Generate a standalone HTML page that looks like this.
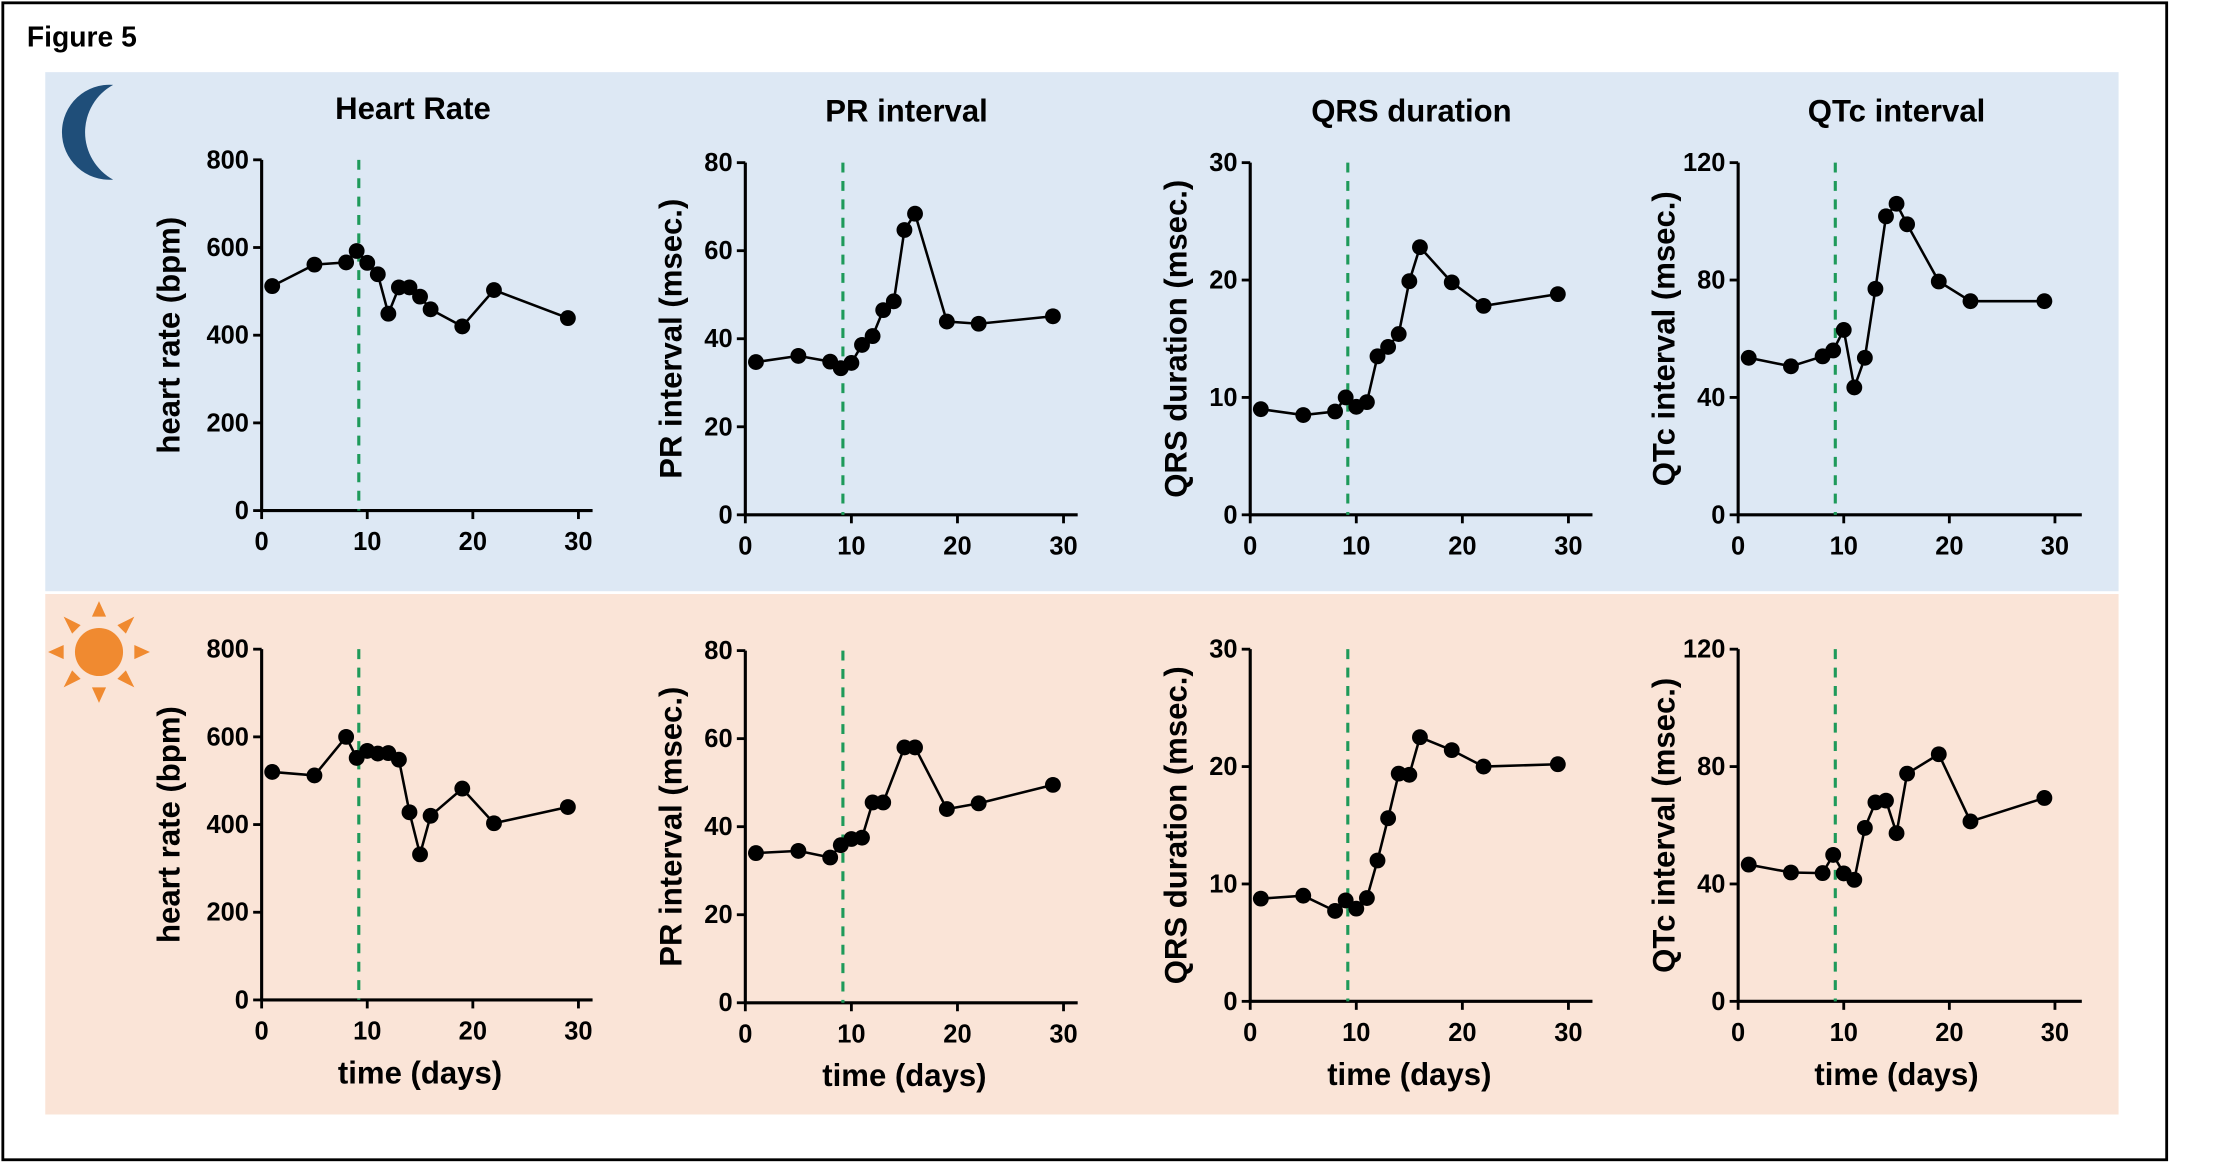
<!DOCTYPE html>
<html><head><meta charset="utf-8">
<style>
html,body{margin:0;padding:0;background:#fff;}
svg{display:block;}
text{font-family:"Liberation Sans",Arial,sans-serif;font-weight:bold;fill:#000;}
.tick{font-family:"Liberation Sans Narrow","Liberation Sans",sans-serif;font-size:18px;}
</style></head>
<body>
<svg id="fig" width="2219" height="1164" viewBox="0 0 1569 823" preserveAspectRatio="none" xmlns="http://www.w3.org/2000/svg">
<rect x="2" y="2" width="1530" height="818" fill="#fff" stroke="#000" stroke-width="2"/>
<text x="19" y="33" font-size="20" style="font-family:'Liberation Sans Narrow','Liberation Sans',sans-serif">Figure 5</text>
<rect x="32" y="51" width="1466" height="367" fill="#dde8f4"/>
<rect x="32" y="420" width="1466" height="368" fill="#fae4d7"/>
<path d="M80,60 A33.6,33.6 0 1,0 80,127 A38.2,38.2 0 0,1 80,60 Z" fill="#1f4e79"/>
<g fill="#f08a30">
<circle cx="70" cy="461" r="17"/>
<polygon points="70,425 65,436 75,436"/><polygon points="70,497 65,486 75,486"/>
<polygon points="34,461 45,456 45,466"/><polygon points="106,461 95,456 95,466"/>
<polygon points="45,436 57,442 51,448"/><polygon points="95,436 83,442 89,448"/>
<polygon points="45,486 57,480 51,474"/><polygon points="95,486 83,480 89,474"/>
</g>
<g id="charts"></g>
</svg>
<script>
const days = [1,5,8,9,10,11,12,13,14,15,16,19,22,29];
const daysPR2 = [1,5,8,9,10,11,12,13,15,16,19,22,29];
const hrNight = [512,561,566,592,565,539,449,509,509,488,459,420,503,439];
const prNight = [34.7,36.1,34.8,33.3,34.5,38.6,40.6,46.5,48.5,64.7,68.4,43.9,43.4,45.1];
const qrsNight = [9.0,8.5,8.8,10.0,9.2,9.6,13.5,14.3,15.4,19.9,22.8,19.8,17.8,18.8];
const qtcNight = [53.5,50.6,54,56,63,43.4,53.5,77,101.7,106,99,79.5,72.8,72.8];
const hrDay = [520,512,600,552,568,562,563,548,428,332,420,482,403,440];
const prDay = [34,34.5,33,35.8,37.2,37.5,45.5,45.5,58,58,44,45.3,49.5];
const qrsDay = [8.75,9.0,7.7,8.6,7.9,8.8,12.0,15.6,19.4,19.3,22.5,21.4,20.0,20.2];
const qtcDay = [46.6,43.9,43.7,49.9,43.6,41.4,59.1,67.8,68.4,57.3,77.6,84.2,61.3,69.3];
const xTicks = [0,10,20,30];
const hrTicks = [0,200,400,600,800];
const prTicks = [0,20,40,60,80];
const qrsTicks = [0,10,20,30];
const qtcTicks = [0,40,80,120];
const treatmentDay = 9.2;

const NS="http://www.w3.org/2000/svg";
const root=document.getElementById('charts');
function mk(tag,attrs,parent){const e=document.createElementNS(NS,tag);for(const k in attrs)e.setAttribute(k,attrs[k]);(parent||root).appendChild(e);return e;}

const cols=[
 {x0:185,x1:409,xe:419,title:"Heart Rate",tx:292,ylab:"heart rate (bpm)",ticks:hrTicks,max:800,id:"hr"},
 {x0:527,x1:752,xe:762,title:"PR interval",tx:641,ylab:"PR interval (msec.)",ticks:prTicks,max:80,id:"pr"},
 {x0:884,x1:1109,xe:1126,title:"QRS duration",tx:998,ylab:"QRS duration (msec.)",ticks:qrsTicks,max:30,id:"qrs"},
 {x0:1229,x1:1453,xe:1472,title:"QTc interval",tx:1341,ylab:"QTc interval (msec.)",ticks:qtcTicks,max:120,id:"qtc"}
];
const rows=[
 {name:"night",yTop:[113,115,115,115],y0:[361,364,364,364],data:[[days,hrNight],[days,prNight],[days,qrsNight],[days,qtcNight]]},
 {name:"day",yTop:[459,460,459,459],y0:[707,709,708,708],data:[[days,hrDay],[daysPR2,prDay],[days,qrsDay],[days,qtcDay]]}
];
const titleY=[84,86,86,86];

rows.forEach((row,ri)=>{
 cols.forEach((c,ci)=>{
  const g=mk('g',{});
  
  
  const yT=row.yTop[ci], yB=row.y0[ci];
  const sx=v=>c.x0+(v/30)*(c.x1-c.x0);
  const sy=v=>yB-(v/c.max)*(yB-yT);
  if(ri===0){
   const t=mk('text',{x:c.tx,y:titleY[ci],'font-size':22,'text-anchor':'middle'},g);
   t.textContent=c.title;
   
   
  }
  const lx=c.x0-(ci===0?65:52), ly=(yT+yB)/2;
  const yl=mk('text',{x:lx,y:ly,'font-size':22,'text-anchor':'middle',transform:`rotate(-90 ${lx} ${ly})`,dy:7},g);
  yl.textContent=c.ylab;
  
  
  if(ri===1){
   const xl=mk('text',{x:(c.x0+c.x1)/2,y:yB+59,'font-size':22,'text-anchor':'middle'},g);
   xl.textContent="time (days)";
   
   
  }
  const ya=mk('line',{x1:c.x0,y1:yT,x2:c.x0,y2:yB,stroke:'#000','stroke-width':2.2},g);
  
  
  const xa=mk('line',{x1:c.x0-1,y1:yB,x2:c.xe,y2:yB,stroke:'#000','stroke-width':2.2},g);
  
  
  c.ticks.forEach(v=>{
   mk('line',{x1:c.x0-6,y1:sy(v),x2:c.x0,y2:sy(v),stroke:'#000','stroke-width':2},g);
   const t=mk('text',{x:c.x0-9,y:sy(v)+6,class:'tick','text-anchor':'end'},g);
   t.textContent=v;
   
   
  });
  xTicks.forEach(v=>{
   mk('line',{x1:sx(v),y1:yB,x2:sx(v),y2:yB+6,stroke:'#000','stroke-width':2},g);
   const t=mk('text',{x:sx(v),y:yB+28,class:'tick','text-anchor':'middle'},g);
   t.textContent=v;
   
   
  });
  const dl=mk('line',{x1:sx(treatmentDay),y1:yT,x2:sx(treatmentDay),y2:yB,stroke:'#1e9a5a','stroke-width':2.2,'stroke-dasharray':'7,6'},g);
  
  
  const [xs,ys]=row.data[ci];
  const pts=xs.map((d,i)=>sx(d)+','+sy(ys[i])).join(' ');
  const pl=mk('polyline',{points:pts,fill:'none',stroke:'#000','stroke-width':1.8},g);
  
  
  xs.forEach((d,i)=>{
   const m=mk('circle',{cx:sx(d),cy:sy(ys[i]),r:5.6,fill:'#000'},g);
   
   
  });
 });
});
</script>
</body></html>
